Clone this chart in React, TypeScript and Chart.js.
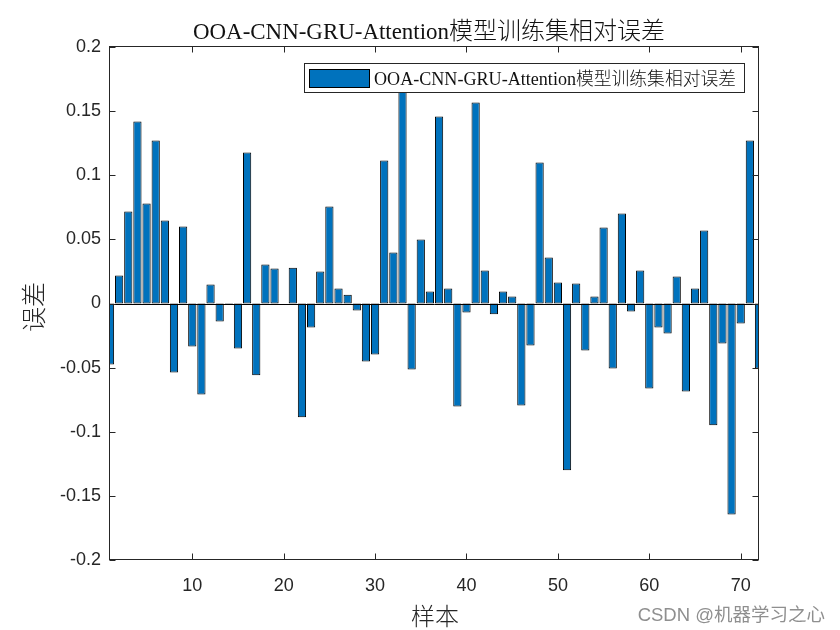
import React, { useEffect, useRef } from "react";
import { Chart, registerables } from "chart.js";

Chart.register(...registerables);

// ---- data ----
const errors: number[] = [
  -0.0476, 0.0218, 0.0717, 0.1419, 0.078, 0.127, 0.0647, -0.0538, 0.06, -0.0335,
  -0.071, 0.0148, -0.014, -0.001, -0.035, 0.1177, -0.056, 0.0304, 0.0273, 0.0,
  0.0278, -0.0886, -0.0187, 0.025, 0.0756, 0.0117, 0.0068, -0.0055, -0.0452, -0.0398,
  0.1115, 0.0398, 0.17, -0.0515, 0.0499, 0.0094, 0.1458, 0.0117, -0.0803, -0.007,
  0.1567, 0.0257, -0.0083, 0.0094, 0.0055, -0.0795, -0.0327, 0.11, 0.0359, 0.0164,
  -0.13, 0.0156, -0.0366, 0.0055, 0.0593, -0.0507, 0.0702, -0.0062, 0.0257, -0.0663,
  -0.0187, -0.0234, 0.021, -0.0686, 0.0117, 0.0569, -0.0949, -0.0312, -0.1645, -0.0156,
  0.127, -0.0507,
];
const xTickValues: number[] = [10, 20, 30, 40, 50, 60, 70];
const yTickValues: number[] = [-0.2, -0.15, -0.1, -0.05, 0, 0.05, 0.1, 0.15, 0.2];
const yTickLabels: string[] = ["-0.2", "-0.15", "-0.1", "-0.05", "0", "0.05", "0.1", "0.15", "0.2"];
const titleLatin = "OOA-CNN-GRU-Attention";
const titleCjk = "模型训练集相对误差";
const xLabel = "样本";
const yLabel = "误差";
const watermark = "CSDN @机器学习之心";

const SERIF = "'Liberation Serif', 'Times New Roman', serif";
const CJK = "'Noto Sans CJK SC', sans-serif";
const SANS = "'Liberation Sans', Arial, sans-serif";
const AXIS = "#262626";
const BAR = "#0072BD";

function drawMixed(ctx: CanvasRenderingContext2D, x: number, y: number, parts: { t: string; f: string; w?: number }[]) {
  ctx.textAlign = "left";
  ctx.textBaseline = "alphabetic";
  let cx = x;
  for (const p of parts) {
    ctx.font = p.f;
    const mw = ctx.measureText(p.t).width;
    if (p.w && mw > 0) {
      // fit the run to the width measured on the reference
      ctx.save();
      ctx.translate(cx, y);
      ctx.scale(p.w / mw, 1);
      ctx.fillText(p.t, 0, 0);
      ctx.restore();
      cx += p.w;
    } else {
      ctx.fillText(p.t, cx, y);
      cx += mw;
    }
  }
}

const overlay = {
  id: "matlabOverlay",
  afterDatasetsDraw(chart: any) {
    const { ctx, chartArea: a, scales } = chart;
    const y0 = Math.round(scales.y.getPixelForValue(0)) + 0.5;
    ctx.save();
    ctx.strokeStyle = "#000";
    ctx.lineWidth = 1;
    ctx.beginPath();
    ctx.moveTo(a.left, y0);
    ctx.lineTo(a.right, y0);
    ctx.stroke();
    ctx.restore();
  },
  afterDraw(chart: any) {
    const { ctx, chartArea: a, scales } = chart;
    const L = Math.round(a.left) - 0.5;
    const R = Math.round(a.right) - 0.5;
    const T = Math.round(a.top) - 0.5;
    const B = Math.round(a.bottom) - 0.5;
    ctx.save();
    // axes box
    ctx.strokeStyle = AXIS;
    ctx.lineWidth = 1;
    ctx.strokeRect(L, T, R - L, B - T);
    // inward ticks
    const tl = 6;
    ctx.beginPath();
    for (const v of xTickValues) {
      const px = Math.round(scales.x.getPixelForValue(v)) + 0.5;
      ctx.moveTo(px, B);
      ctx.lineTo(px, B - tl);
      ctx.moveTo(px, T);
      ctx.lineTo(px, T + tl);
    }
    for (const v of yTickValues) {
      const py = Math.round(scales.y.getPixelForValue(v)) + 0.5;
      ctx.moveTo(L, py);
      ctx.lineTo(L + tl, py);
      ctx.moveTo(R, py);
      ctx.lineTo(R - tl, py);
    }
    ctx.stroke();

    // legend box
    ctx.fillStyle = "#fff";
    ctx.fillRect(304, 63, 440, 29);
    ctx.strokeStyle = AXIS;
    ctx.strokeRect(304.5, 63.5, 440, 29);
    ctx.fillStyle = BAR;
    ctx.fillRect(309.5, 69.5, 60, 18);
    ctx.strokeStyle = "#000";
    ctx.strokeRect(309.5, 69.5, 60, 18);
    ctx.fillStyle = "#111";
    drawMixed(ctx, 374, 84.5, [
      { t: titleLatin, f: `18px ${SERIF}`, w: 202 },
      { t: titleCjk, f: `300 18px ${CJK}`, w: 160 },
    ]);

    // title
    drawMixed(ctx, 193, 38.5, [
      { t: titleLatin, f: `23px ${SERIF}`, w: 256 },
      { t: titleCjk, f: `300 24px ${CJK}`, w: 216 },
    ]);

    // axis labels
    ctx.fillStyle = AXIS;
    ctx.font = `300 24px ${CJK}`;
    ctx.textAlign = "center";
    ctx.textBaseline = "middle";
    ctx.fillText(xLabel, 435, 616);
    ctx.save();
    ctx.translate(33, 307);
    ctx.rotate(-Math.PI / 2);
    ctx.font = `300 25px ${CJK}`;
    ctx.fillText(yLabel, 0, 0);
    ctx.restore();

    // watermark
    ctx.fillStyle = "#8f8f8f";
    ctx.font = `18.5px 'Liberation Sans', 'Noto Sans CJK SC', sans-serif`;
    ctx.textAlign = "right";
    ctx.textBaseline = "alphabetic";
    ctx.fillText(watermark, 825, 621);
    ctx.restore();
  },
};

export default function App() {
  const ref = useRef<HTMLCanvasElement>(null);
  useEffect(() => {
    const chart = new Chart(ref.current as HTMLCanvasElement, {
      type: "bar",
      data: {
        datasets: [
          {
            label: titleLatin + titleCjk,
            data: errors.map((v, i) => ({ x: i + 1, y: v })),
            backgroundColor: BAR,
            borderColor: "#000",
            borderWidth: 1,
            borderSkipped: false,
            categoryPercentage: 0.9,
            barPercentage: 1,
            clip: 0,
          } as any,
        ],
      },
      options: {
        responsive: false,
        animation: false,
        devicePixelRatio: 1,
        layout: { padding: { left: 0, right: 81, top: 47, bottom: 0 } },
        plugins: {
          legend: { display: false },
          title: { display: false },
          tooltip: { enabled: false },
        },
        scales: {
          x: {
            type: "linear",
            min: 1,
            max: 72,
            offset: false,
            grid: { display: false, drawTicks: false },
            border: { display: false },
            afterBuildTicks: (s: any) => {
              s.ticks = xTickValues.map((v) => ({ value: v }));
            },
            afterFit: (s: any) => {
              s.height = 70;
            },
            ticks: {
              font: { family: SANS, size: 18 },
              color: AXIS,
              padding: 15,
              maxRotation: 0,
              autoSkip: false,
              callback: (v: any) => String(v),
            },
          },
          y: {
            type: "linear",
            min: -0.2,
            max: 0.2,
            grid: { display: false, drawTicks: false },
            border: { display: false },
            afterBuildTicks: (s: any) => {
              s.ticks = yTickValues.map((v) => ({ value: v }));
            },
            afterFit: (s: any) => {
              s.width = 110;
            },
            ticks: {
              font: { family: SANS, size: 18 },
              color: AXIS,
              padding: 9,
              callback: (_v: any, i: number) => yTickLabels[i],
            },
          },
        },
      } as any,
      plugins: [overlay],
    });
    return () => chart.destroy();
  }, []);
  return (
    <div style={{ position: "absolute", left: 0, top: 0, width: 840, height: 630, background: "#fff" }}>
      <canvas ref={ref} width={840} height={630} style={{ display: "block" }} />
    </div>
  );
}
